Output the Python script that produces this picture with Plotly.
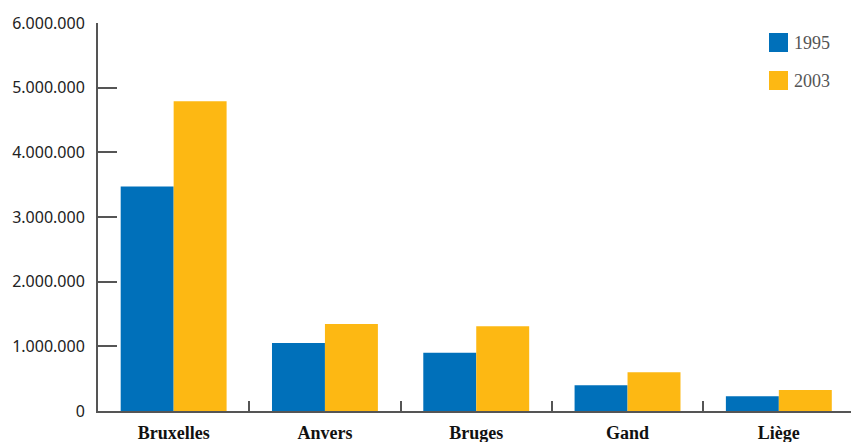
import plotly.graph_objects as go

categories = ["Bruxelles", "Anvers", "Bruges", "Gand", "Liège"]
series_names = ["1995", "2003"]
values_1995 = [3470000, 1050000, 900000, 400000, 230000]
values_2003 = [4790000, 1345000, 1310000, 600000, 325000]
y_ticks = [0, 1000000, 2000000, 3000000, 4000000, 5000000, 6000000]
colors = ["#0070BA", "#FDB813"]

fig = go.Figure()
for name, vals, col in zip(series_names, [values_1995, values_2003], colors):
    fig.add_trace(go.Bar(x=categories, y=vals, name=name, marker_color=col,
                         marker_line_width=0, showlegend=False))

# custom legend (squares + labels)
for i, (name, col) in enumerate(zip(series_names, colors)):
    y0 = 33 + i * 38
    fig.add_shape(type="rect", xref="paper", yref="paper",
                  x0=(769 - 98) / 753, x1=(788 - 98) / 753,
                  y0=(411 - (y0 + 19)) / 388, y1=(411 - y0) / 388,
                  fillcolor=col, line_width=0)
    fig.add_annotation(text=name, xref="paper", yref="paper",
                       x=(792 - 98) / 753, y=(411 - (y0 + 9.5)) / 388,
                       xanchor="left", yanchor="middle", showarrow=False,
                       font=dict(family="Liberation Serif", size=18, color="#555555"))

fig.update_layout(
    width=851, height=442,
    margin=dict(l=98, r=0, t=23, b=31),
    paper_bgcolor="white", plot_bgcolor="white",
    barmode="group", bargap=0.3, bargroupgap=0,
    separators=",.",
)
fig.update_xaxes(
    type="category", range=[-0.5, 4.477],
    showline=True, linecolor="#555555", linewidth=2,
    ticks="inside", tickson="boundaries", ticklen=10, tickwidth=2, tickcolor="#555555",
    showgrid=False, zeroline=False,
    tickfont=dict(family="Liberation Serif", size=18, color="#111111", weight="bold"),
    ticklabelstandoff=4,
)
fig.update_yaxes(
    range=[0, 6000000], tickvals=y_ticks, tickformat=",d",
    showline=True, linecolor="#555555", linewidth=2,
    ticks="inside", ticklen=19, tickwidth=2, tickcolor="#555555",
    showgrid=False, zeroline=False,
    tickfont=dict(family="Noto Sans", size=16, color="#222222"),
    ticklabelstandoff=8,
)

fig.write_html("out.html")
